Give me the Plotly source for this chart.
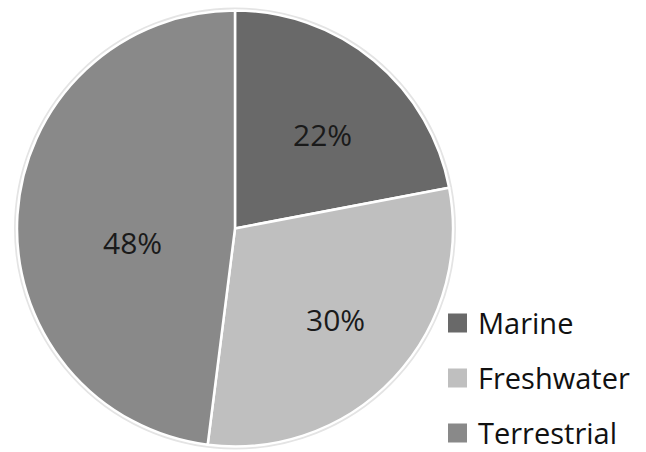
import math
import plotly.graph_objects as go

# Share of species by habitat
habitats = ["Marine", "Freshwater", "Terrestrial"]
shares = [22, 30, 48]
slice_colors = ["#696969", "#bfbfbf", "#898989"]

W, H = 646, 452
cx, cy, r = 235, 228.5, 218  # pie centre and radius in pixels

fig = go.Figure(
    go.Pie(
        labels=habitats,
        values=shares,
        sort=False,
        direction="clockwise",
        rotation=0,
        marker=dict(colors=slice_colors, line=dict(color="white", width=2.5)),
        textinfo="none",
        domain=dict(x=[(cx - r) / W, (cx + r) / W], y=[(H - cy - r) / H, (H - cy + r) / H]),
        showlegend=False,
        hoverinfo="label+percent",
    )
)

# Soft shadow ring around the pie
fig.add_shape(
    type="circle", xref="paper", yref="paper", layer="below",
    x0=(cx - r - 1.5) / W, x1=(cx + r + 1.5) / W,
    y0=(H - cy - r - 1.5) / H, y1=(H - cy + r + 1.5) / H,
    line=dict(color="#e4e4e4", width=3), fillcolor="rgba(0,0,0,0)",
)

# Percentage labels placed along each slice's bisector, with small nudges
label_dist = 0.6 * r
label_nudge = [(4, 7), (5, 1), (28, 22)]
total = sum(shares)
start = 0.0
for v, (nx, ny) in zip(shares, label_nudge):
    mid = (start + v / 2) / total * 2 * math.pi
    start += v
    px = cx + label_dist * math.sin(mid) + nx
    py = cy - label_dist * math.cos(mid) + ny
    fig.add_annotation(
        x=px / W, y=1 - py / H, xref="paper", yref="paper",
        text=f"{round(v / total * 100)}%", showarrow=False,
        xanchor="center", yanchor="middle",
        font=dict(family="Open Sans", size=30, color="#1a1a1a"),
    )

# Legend drawn as square swatches with labels below the pie's right side
legend_x, legend_y0, legend_step, sw = 448, 323, 55, 19
for i, (name, col) in enumerate(zip(habitats, slice_colors)):
    yc = legend_y0 + i * legend_step
    fig.add_shape(
        type="rect", xref="paper", yref="paper",
        x0=legend_x / W, x1=(legend_x + sw) / W,
        y0=1 - (yc + sw / 2) / H, y1=1 - (yc - sw / 2) / H,
        fillcolor=col, line=dict(width=0),
    )
    fig.add_annotation(
        x=(legend_x + sw + 9) / W, y=1 - (yc - 1) / H, xref="paper", yref="paper",
        text=name, showarrow=False, xanchor="left", yanchor="middle",
        font=dict(family="Open Sans", size=29, color="#111111"),
    )

fig.update_layout(
    width=W, height=H,
    margin=dict(l=0, r=0, t=0, b=0),
    paper_bgcolor="white", plot_bgcolor="white",
)

fig.write_html("out.html")
